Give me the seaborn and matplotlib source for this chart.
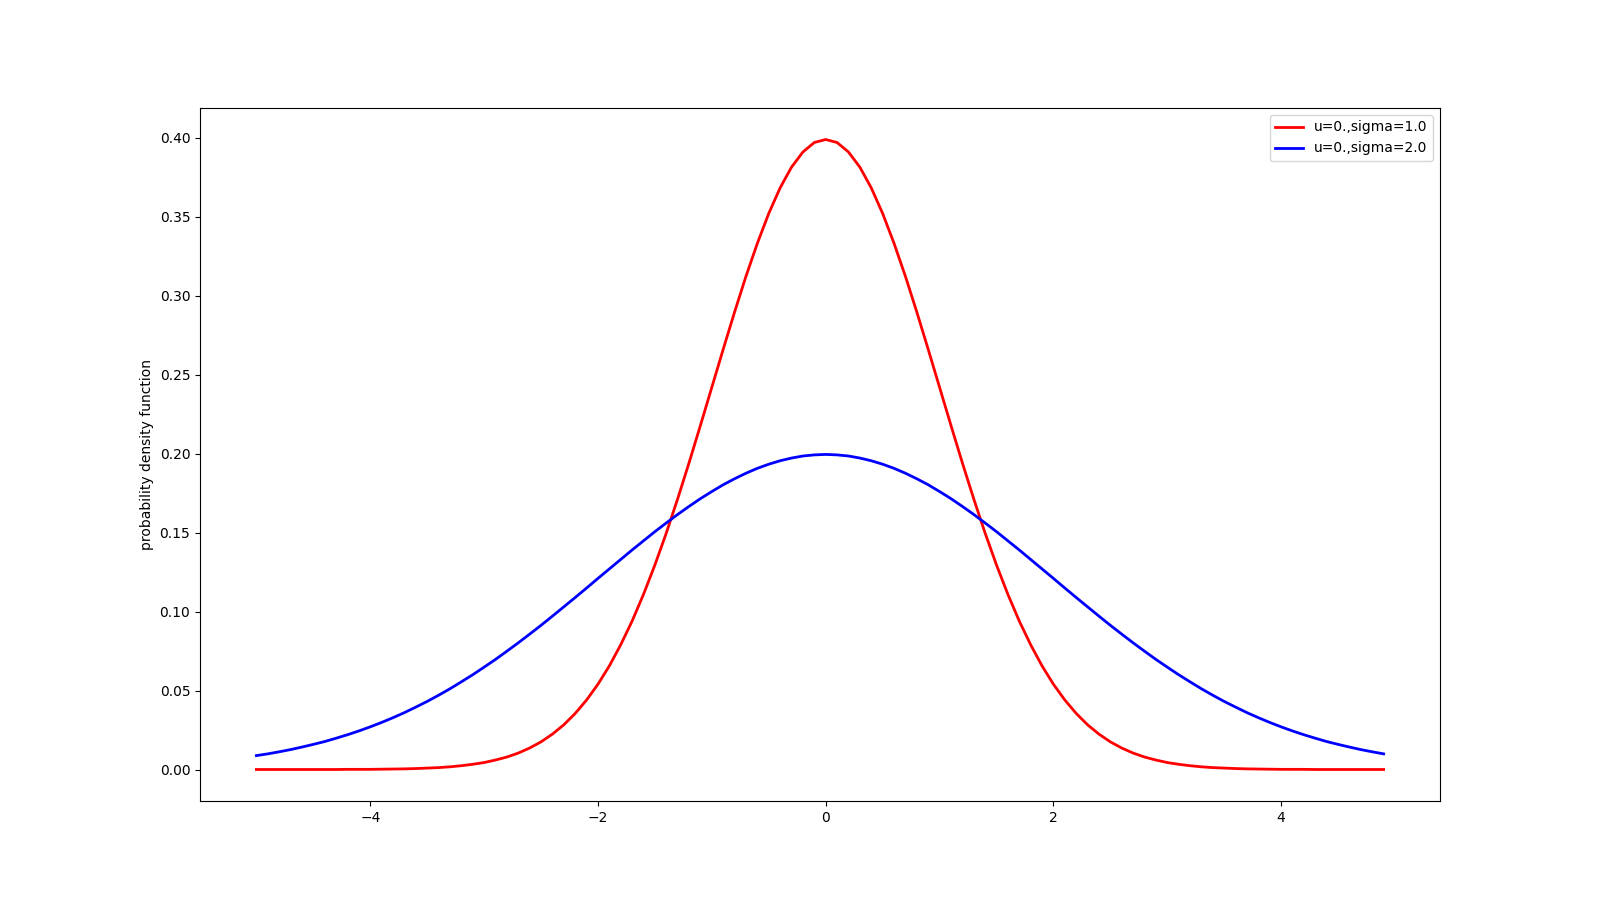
import matplotlib
matplotlib.use("Agg")
import matplotlib.pyplot as plt
import seaborn as sns

# sample points on the x axis (-5.0 .. 4.9, step 0.1)
x_vals = [
    -5.0, -4.9, -4.8, -4.7, -4.6, -4.5, -4.4, -4.3, -4.2, -4.1,
    -4.0, -3.9, -3.8, -3.7, -3.6, -3.5, -3.4, -3.3, -3.2, -3.1,
    -3.0, -2.9, -2.8, -2.7, -2.6, -2.5, -2.4, -2.3, -2.2, -2.1,
    -2.0, -1.9, -1.8, -1.7, -1.6, -1.5, -1.4, -1.3, -1.2, -1.1,
    -1.0, -0.9, -0.8, -0.7, -0.6, -0.5, -0.4, -0.3, -0.2, -0.1,
    0.0, 0.1, 0.2, 0.3, 0.4, 0.5, 0.6, 0.7, 0.8, 0.9,
    1.0, 1.1, 1.2, 1.3, 1.4, 1.5, 1.6, 1.7, 1.8, 1.9,
    2.0, 2.1, 2.2, 2.3, 2.4, 2.5, 2.6, 2.7, 2.8, 2.9,
    3.0, 3.1, 3.2, 3.3, 3.4, 3.5, 3.6, 3.7, 3.8, 3.9,
    4.0, 4.1, 4.2, 4.3, 4.4, 4.5, 4.6, 4.7, 4.8, 4.9,
]

# density, sigma = 1.0
pdf_sigma1 = [
    0.0000, 0.0000, 0.0000, 0.0000, 0.0000, 0.0000, 0.0000, 0.0000, 0.0001, 0.0001,
    0.0001, 0.0002, 0.0003, 0.0004, 0.0006, 0.0009, 0.0012, 0.0017, 0.0024, 0.0033,
    0.0044, 0.0060, 0.0079, 0.0104, 0.0136, 0.0175, 0.0224, 0.0283, 0.0355, 0.0440,
    0.0540, 0.0656, 0.0790, 0.0940, 0.1109, 0.1295, 0.1497, 0.1714, 0.1942, 0.2179,
    0.2420, 0.2661, 0.2897, 0.3123, 0.3332, 0.3521, 0.3683, 0.3814, 0.3910, 0.3970,
    0.3989, 0.3970, 0.3910, 0.3814, 0.3683, 0.3521, 0.3332, 0.3123, 0.2897, 0.2661,
    0.2420, 0.2179, 0.1942, 0.1714, 0.1497, 0.1295, 0.1109, 0.0940, 0.0790, 0.0656,
    0.0540, 0.0440, 0.0355, 0.0283, 0.0224, 0.0175, 0.0136, 0.0104, 0.0079, 0.0060,
    0.0044, 0.0033, 0.0024, 0.0017, 0.0012, 0.0009, 0.0006, 0.0004, 0.0003, 0.0002,
    0.0001, 0.0001, 0.0001, 0.0000, 0.0000, 0.0000, 0.0000, 0.0000, 0.0000, 0.0000,
]

# density, sigma = 2.0
pdf_sigma2 = [
    0.0088, 0.0099, 0.0112, 0.0126, 0.0142, 0.0159, 0.0177, 0.0198, 0.0220, 0.0244,
    0.0270, 0.0298, 0.0328, 0.0360, 0.0395, 0.0431, 0.0470, 0.0511, 0.0555, 0.0600,
    0.0648, 0.0697, 0.0749, 0.0802, 0.0857, 0.0913, 0.0971, 0.1030, 0.1089, 0.1149,
    0.1210, 0.1270, 0.1330, 0.1390, 0.1448, 0.1506, 0.1561, 0.1615, 0.1666, 0.1715,
    0.1760, 0.1803, 0.1841, 0.1876, 0.1907, 0.1933, 0.1955, 0.1972, 0.1985, 0.1992,
    0.1995, 0.1992, 0.1985, 0.1972, 0.1955, 0.1933, 0.1907, 0.1876, 0.1841, 0.1803,
    0.1760, 0.1715, 0.1666, 0.1615, 0.1561, 0.1506, 0.1448, 0.1390, 0.1330, 0.1270,
    0.1210, 0.1149, 0.1089, 0.1030, 0.0971, 0.0913, 0.0857, 0.0802, 0.0749, 0.0697,
    0.0648, 0.0600, 0.0555, 0.0511, 0.0470, 0.0431, 0.0395, 0.0360, 0.0328, 0.0298,
    0.0270, 0.0244, 0.0220, 0.0198, 0.0177, 0.0159, 0.0142, 0.0126, 0.0112, 0.0099,
]

series_labels = ["u=0.,sigma=1.0", "u=0.,sigma=2.0"]

fig, ax = plt.subplots(figsize=(16, 9), dpi=100)
sns.lineplot(x=x_vals, y=pdf_sigma1, color="red", linewidth=2, label=series_labels[0], ax=ax)
sns.lineplot(x=x_vals, y=pdf_sigma2, color="blue", linewidth=2, label=series_labels[1], ax=ax)
ax.set_ylabel("probability density function")
ax.legend(loc="upper right")
plt.savefig("out.png")
